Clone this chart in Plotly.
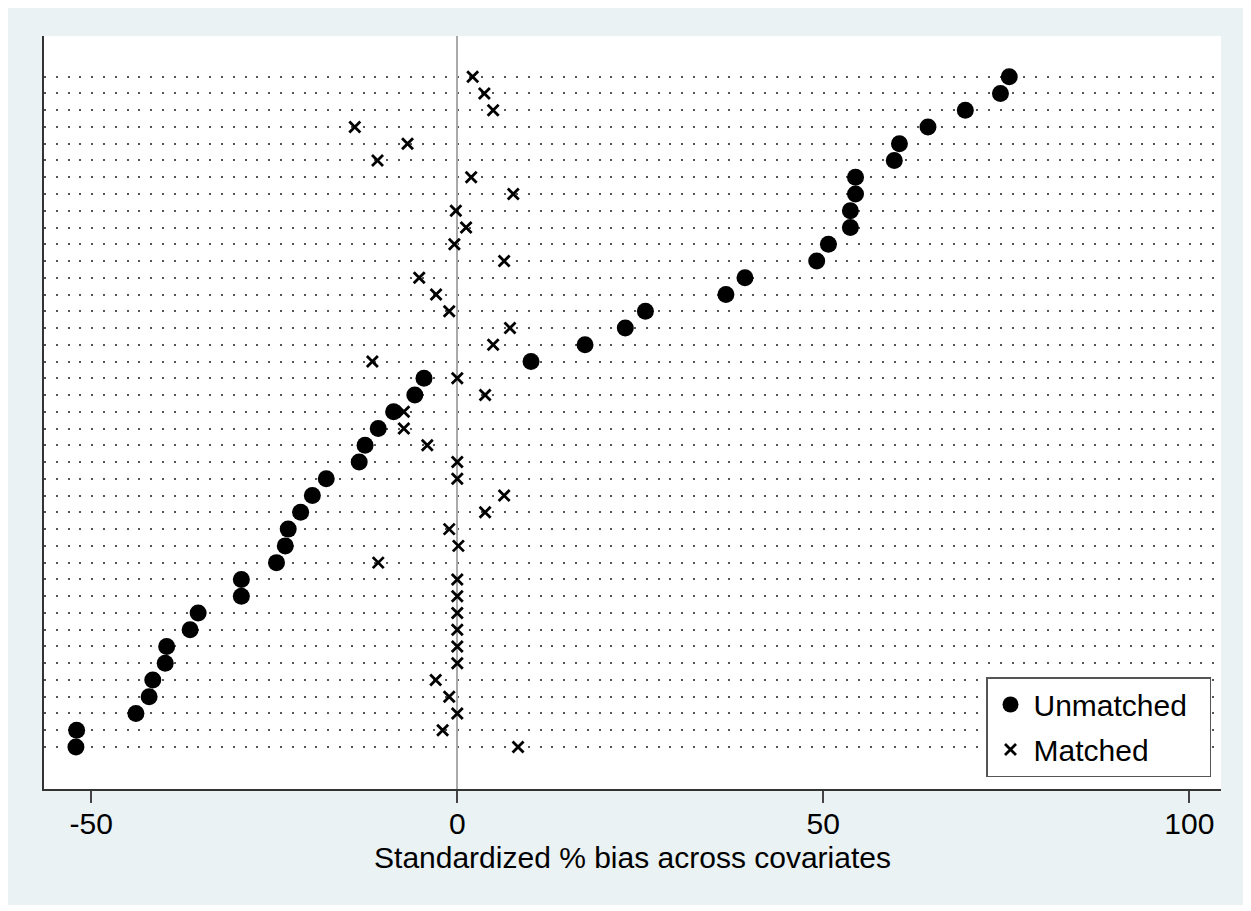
import plotly.graph_objects as go

# Standardized % bias per covariate, rows listed top to bottom
unmatched = [75.4, 74.2, 69.4, 64.3, 60.4, 59.7, 54.4, 54.4, 53.7, 53.7, 50.7, 49.1,
             39.3, 36.7, 25.7, 22.95, 17.45, 10.07, -4.55, -5.8, -8.7, -10.8, -12.6,
             -13.4, -17.9, -19.8, -21.4, -23.1, -23.5, -24.7, -29.5, -29.5, -35.4,
             -36.5, -39.7, -39.9, -41.6, -42.1, -43.9, -52.0, -52.1]
matched = [2.1, 3.7, 4.9, -14.0, -6.8, -10.9, 1.9, 7.65, -0.2, 1.2, -0.4, 6.4,
           -5.2, -2.9, -1.1, 7.2, 4.9, -11.6, 0.0, 3.8, -7.3, -7.3, -4.1, 0.0, 0.0,
           6.4, 3.8, -1.1, 0.15, -10.8, 0.0, 0.0, 0.0, 0.0, 0.0, 0.0, -2.95, -1.1,
           0.0, -2.0, 8.3]
n_rows = len(unmatched)
rows = list(range(n_rows, 0, -1))
x_ticks = [-50, 0, 50, 100]
x_title = "Standardized % bias across covariates"

FONT = "Liberation Sans, Arial, Helvetica, sans-serif"
FS = 30

fig = go.Figure()
fig.add_trace(go.Scatter(
    x=unmatched, y=rows, mode="markers", name="Unmatched\u00a0\u00a0", legendgroup="u",
    marker=dict(symbol="circle", size=17, color="black", line=dict(width=0)),
))
fig.add_trace(go.Scatter(
    x=matched, y=rows, mode="markers", name="Matched", legendgroup="m",
    marker=dict(symbol="x-thin", size=11, color="black",
                line=dict(width=2.8, color="black")),
))

# page is shifted by the browser's default body margin
OFF = 8
W, H = 1251 - OFF, 911 - OFF
L, R, T, B = 44 - OFF, 1221 - OFF, 36 - OFF, 789 - OFF
pw, ph = R - L, B - T


def px_x(p):
    return (p - OFF - L) / pw


def px_y(p):
    return (B - (p - OFF)) / ph


fig.update_layout(
    width=W, height=H, autosize=False,
    margin=dict(l=L, r=W - R, t=T, b=H - B, pad=0),
    paper_bgcolor="white",
    plot_bgcolor="white",
    font=dict(family=FONT, size=FS, color="black"),
    showlegend=True,
    legend=dict(
        x=px_x(1211), y=px_y(777), xanchor="right", yanchor="bottom",
        bgcolor="white", bordercolor="#555555", borderwidth=1.5,
        font=dict(family=FONT, size=FS, color="black"),
        traceorder="grouped", tracegroupgap=3,
        itemwidth=36,
    ),
    shapes=[
        dict(type="rect", xref="paper", yref="paper", layer="below",
             x0=px_x(6), x1=px_x(1244), y0=px_y(905), y1=px_y(5),
             fillcolor="#EAF2F3", line=dict(width=0)),
        dict(type="rect", xref="paper", yref="paper", layer="below",
             x0=0, x1=1, y0=0, y1=1,
             fillcolor="white", line=dict(width=0)),
    ],
    xaxis=dict(
        range=[-56.46, 104.33], tickvals=x_ticks, ticktext=[str(v) for v in x_ticks],
        ticks="outside", ticklen=12, tickwidth=1.5, tickcolor="#444444",
        ticklabelstandoff=-5,
        showline=True, linecolor="#333333", linewidth=2,
        showgrid=False,
        zeroline=True, zerolinecolor="#aaaaaa", zerolinewidth=2,
        tickfont=dict(family=FONT, size=FS, color="black"),
        title=dict(text=x_title, font=dict(family=FONT, size=FS, color="black"),
                   standoff=8),
    ),
    yaxis=dict(
        range=[-1.51, 43.43], tickvals=rows, showticklabels=False, ticks="",
        showline=True, linecolor="#333333", linewidth=2,
        showgrid=True, gridcolor="#555555", gridwidth=2, griddash="2px,9.8px",
        zeroline=False,
    ),
)

fig.write_html("out.html")
